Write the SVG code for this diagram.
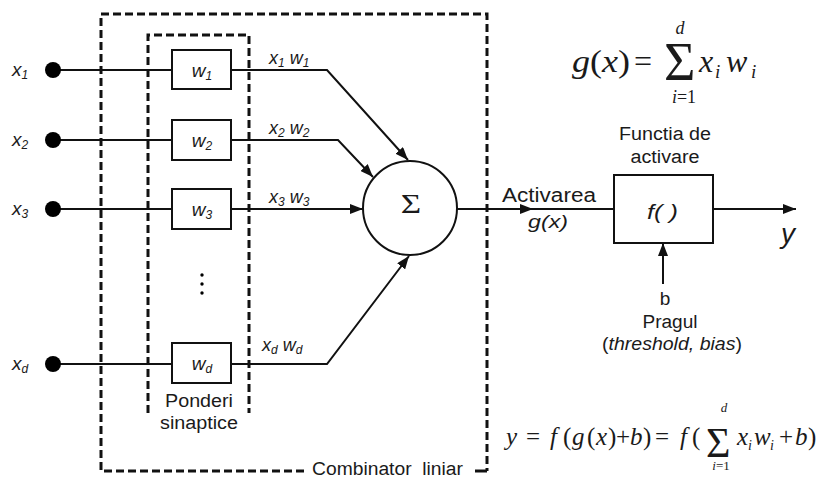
<svg xmlns="http://www.w3.org/2000/svg" width="821" height="478" viewBox="0 0 821 478">
  <defs>
    <style>
      .sans { font-family: "Liberation Sans", Arial, sans-serif; fill: #1a1a1a; }
      .serif { font-family: "Liberation Serif", "Times New Roman", serif; fill: #1a1a1a; }
      .it { font-style: italic; }
      .wire { fill: none; stroke: #111; stroke-width: 2; }
      .box { fill: #fff; stroke: #111; stroke-width: 2; }
      .dash { fill: none; stroke: #111; stroke-width: 3; stroke-dasharray: 8 4; }
      .dot { fill: #000; }
    </style>
    <marker id="arrow" markerUnits="userSpaceOnUse" markerWidth="13" markerHeight="10" refX="13" refY="5" orient="auto">
      <path d="M0,0 L13,5 L0,10 z" fill="#111"/>
    </marker>
  </defs>

  <rect width="821" height="478" fill="#fff"/>

  <!-- linear combiner frame -->
  <g id="combiner">
    <path class="dash" d="M304,471 H101 V14 H487 V471"/>
    <path d="M475,471 H487" stroke="#111" stroke-width="3"/>
    <text class="sans" x="312" y="475" font-size="18" textLength="151" lengthAdjust="spacingAndGlyphs" xml:space="preserve">Combinator  liniar</text>
  </g>

  <!-- synaptic weights frame -->
  <g id="weights-frame">
    <path class="dash" d="M148,413 V35 H249 V413"/>
    <text class="sans" x="199" y="407" font-size="18" text-anchor="middle" textLength="68" lengthAdjust="spacingAndGlyphs">Ponderi</text>
    <text class="sans" x="199" y="429" font-size="18" text-anchor="middle" textLength="78" lengthAdjust="spacingAndGlyphs">sinaptice</text>
  </g>

  <!-- connectors -->
  <g id="connectors">
    <path class="wire" d="M53,70 H172"/>
    <path class="wire" d="M53,140 H172"/>
    <path class="wire" d="M53,209 H172"/>
    <path class="wire" d="M53,364 H172"/>
    <path class="wire" d="M231,70 H327 L408,160" marker-end="url(#arrow)"/>
    <path class="wire" d="M231,140 H338 L373,177" marker-end="url(#arrow)"/>
    <path class="wire" d="M231,209 H363" marker-end="url(#arrow)"/>
    <path class="wire" d="M231,364 H327 L409,256" marker-end="url(#arrow)"/>
    <path class="wire" d="M457,209 H533" marker-end="url(#arrow)"/>
    <path class="wire" d="M530,209 H614"/>
    <path class="wire" d="M713,209 H796" marker-end="url(#arrow)"/>
    <path class="wire" d="M663,284 V243" marker-end="url(#arrow)"/>
  </g>

  <!-- inputs -->
  <g id="input-x1">
    <circle class="dot" cx="53" cy="70" r="8"/>
    <text class="sans it" x="12" y="76" font-size="19">x<tspan font-size="12" dy="3">1</tspan></text>
  </g>
  <g id="input-x2">
    <circle class="dot" cx="53" cy="140" r="8"/>
    <text class="sans it" x="12" y="146" font-size="19">x<tspan font-size="12" dy="3">2</tspan></text>
  </g>
  <g id="input-x3">
    <circle class="dot" cx="53" cy="209" r="8"/>
    <text class="sans it" x="12" y="215" font-size="19">x<tspan font-size="12" dy="3">3</tspan></text>
  </g>
  <g id="input-xd">
    <circle class="dot" cx="53" cy="364" r="8"/>
    <text class="sans it" x="12" y="370" font-size="19">x<tspan font-size="12" dy="3">d</tspan></text>
  </g>

  <!-- weights -->
  <g id="weight-w1">
    <rect class="box" x="172" y="50" width="59" height="39"/>
    <text class="sans it" x="202" y="77" font-size="19" text-anchor="middle">w<tspan font-size="12" dy="3">1</tspan></text>
  </g>
  <g id="weight-w2">
    <rect class="box" x="172" y="120" width="59" height="40"/>
    <text class="sans it" x="202" y="147" font-size="19" text-anchor="middle">w<tspan font-size="12" dy="3">2</tspan></text>
  </g>
  <g id="weight-w3">
    <rect class="box" x="172" y="189" width="59" height="40"/>
    <text class="sans it" x="202" y="216" font-size="19" text-anchor="middle">w<tspan font-size="12" dy="3">3</tspan></text>
  </g>
  <g id="weight-ellipsis">
    <circle class="dot" cx="202" cy="275" r="1.7"/>
    <circle class="dot" cx="202" cy="284" r="1.7"/>
    <circle class="dot" cx="202" cy="293" r="1.7"/>
  </g>
  <g id="weight-wd">
    <rect class="box" x="172" y="343" width="59" height="40"/>
    <text class="sans it" x="202" y="370" font-size="19" text-anchor="middle">w<tspan font-size="12" dy="3">d</tspan></text>
  </g>

  <!-- weighted products -->
  <g id="products">
    <text class="sans it" x="269" y="64" font-size="18">x<tspan font-size="12" dy="3">1</tspan><tspan dy="-3"> w</tspan><tspan font-size="12" dy="3">1</tspan></text>
    <text class="sans it" x="269" y="134" font-size="18">x<tspan font-size="12" dy="3">2</tspan><tspan dy="-3"> w</tspan><tspan font-size="12" dy="3">2</tspan></text>
    <text class="sans it" x="269" y="203" font-size="18">x<tspan font-size="12" dy="3">3</tspan><tspan dy="-3"> w</tspan><tspan font-size="12" dy="3">3</tspan></text>
    <text class="sans it" x="262" y="351" font-size="18">x<tspan font-size="12" dy="3">d</tspan><tspan dy="-3"> w</tspan><tspan font-size="12" dy="3">d</tspan></text>
  </g>

  <!-- summation node -->
  <g id="sum">
    <circle cx="410" cy="208" r="47" fill="#fff" stroke="#111" stroke-width="2"/>
    <text class="serif" transform="translate(411,213) scale(1.3,1)" font-size="27" text-anchor="middle" fill="#222">Σ</text>
  </g>

  <!-- activation -->
  <g id="activation-label">
    <text class="sans" x="502" y="202" font-size="20" textLength="94" lengthAdjust="spacingAndGlyphs">Activarea</text>
    <text class="sans it" x="528" y="228" font-size="19" textLength="40" lengthAdjust="spacingAndGlyphs">g(x)</text>
  </g>

  <g id="activation-function">
    <text class="sans" x="665" y="140" font-size="18" text-anchor="middle" textLength="92" lengthAdjust="spacingAndGlyphs">Functia de</text>
    <text class="sans" x="665" y="163" font-size="18" text-anchor="middle" textLength="69" lengthAdjust="spacingAndGlyphs">activare</text>
    <rect class="box" x="614" y="175" width="99" height="68"/>
    <text class="sans it" x="647" y="219" font-size="21" textLength="31" lengthAdjust="spacingAndGlyphs" xml:space="preserve">f( )</text>
  </g>

  <g id="output">
    <text class="sans it" x="781" y="243" font-size="28">y</text>
  </g>

  <g id="bias">
    <text class="sans" x="665" y="305" font-size="19" text-anchor="middle">b</text>
    <text class="sans" x="670" y="328" font-size="18" text-anchor="middle" textLength="55" lengthAdjust="spacingAndGlyphs">Pragul</text>
    <text class="sans" x="602" y="350" font-size="18" textLength="140" lengthAdjust="spacingAndGlyphs">(<tspan class="it">threshold, bias</tspan>)</text>
  </g>

  <!-- g(x) definition -->
  <g id="formula-g">
    <text class="serif" x="572" y="72" font-size="32" textLength="58" lengthAdjust="spacingAndGlyphs"><tspan class="it">g</tspan>(<tspan class="it">x</tspan>)</text>
    <text class="serif" x="634" y="72" font-size="32">=</text>
    <text class="serif" x="664" y="80" font-size="54">Σ</text>
    <text class="serif it" x="680" y="34" font-size="18" text-anchor="middle">d</text>
    <text class="serif" x="684" y="103" font-size="18" text-anchor="middle"><tspan class="it">i</tspan>=1</text>
    <text class="serif it" x="699" y="72" font-size="32">x</text>
    <text class="serif it" x="715" y="78" font-size="19">i</text>
    <text class="serif it" x="726" y="72" font-size="32">w</text>
    <text class="serif it" x="751" y="78" font-size="19">i</text>
  </g>

  <!-- neuron output formula -->
  <g id="formula-y">
    <text class="serif it" x="506" y="445" font-size="25">y</text>
    <text class="serif" x="526" y="445" font-size="25">=</text>
    <text class="serif it" x="550" y="445" font-size="25">f</text>
    <text class="serif" x="563" y="445" font-size="25">(</text>
    <text class="serif it" x="572" y="445" font-size="25">g</text>
    <text class="serif" x="587" y="445" font-size="25">(</text>
    <text class="serif it" x="596" y="445" font-size="25">x</text>
    <text class="serif" x="608" y="445" font-size="25">)</text>
    <text class="serif" x="616" y="445" font-size="25">+</text>
    <text class="serif it" x="630" y="445" font-size="25">b</text>
    <text class="serif" x="643" y="445" font-size="25">)</text>
    <text class="serif" x="655" y="445" font-size="25">=</text>
    <text class="serif it" x="680" y="445" font-size="25">f</text>
    <text class="serif" x="692" y="445" font-size="25">(</text>
    <text class="serif" x="706" y="457" font-size="42">Σ</text>
    <text class="serif it" x="724" y="412" font-size="13" text-anchor="middle">d</text>
    <text class="serif" x="721" y="470" font-size="13" text-anchor="middle"><tspan class="it">i</tspan>=1</text>
    <text class="serif it" x="737" y="445" font-size="25">x</text>
    <text class="serif it" x="748" y="450" font-size="14">i</text>
    <text class="serif it" x="754" y="445" font-size="25">w</text>
    <text class="serif it" x="770" y="450" font-size="14">i</text>
    <text class="serif" x="779" y="445" font-size="25">+</text>
    <text class="serif it" x="795" y="445" font-size="25">b</text>
    <text class="serif" x="808" y="445" font-size="25">)</text>
  </g>
</svg>
